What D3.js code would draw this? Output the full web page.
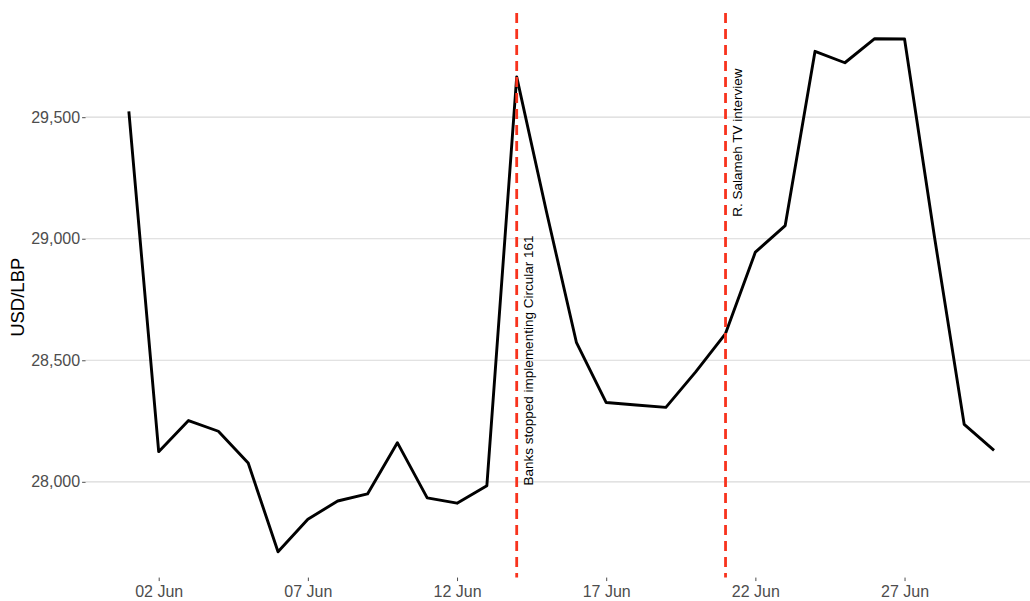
<!DOCTYPE html>
<html>
<head>
<meta charset="utf-8">
<script src="https://cdn.jsdelivr.net/npm/d3@7"></script>
<style>
  html, body { margin: 0; padding: 0; background: #fff; }
  svg { display: block; }
  text { font-family: "Liberation Sans", Arial, Helvetica, sans-serif; }
</style>
</head>
<body>
<svg id="chart" width="1030" height="601"></svg>
<script>
// ---- data ----
const days = [1,2,3,4,5,6,7,8,9,10,11,12,13,14,15,16,17,18,19,20,21,22,23,24,25,26,27,28,29,30];
const rates = [29524,28124,28252,28208,28077,27712,27846,27921,27950,28161,27934,27912,27984,29666,29110,28574,28326,28316,28306,28452,28610,28945,29054,29771,29724,29823,29822,29010,28236,28129];
const yTicks = [28000, 28500, 29000, 29500];
const xTickDays = [2, 7, 12, 17, 22, 27];
const eventDays = [14, 21];
const eventLabels = ["Banks stopped implementing Circular 161", "R. Salameh TV interview"];
const eventLabelY = [27985, 29090];
const yTitle = "USD/LBP";

// ---- setup ----
const svg = d3.select("#chart");
const dt = d => new Date(2021, 5, d);
const DAY = 864e5;

const x = d3.scaleTime()
  .domain([new Date(+dt(1) - 1.45 * DAY), new Date(+dt(30) + 1.45 * DAY)])
  .range([85.6, 1037.3]);
const y = d3.scaleLinear()
  .domain([28000, 29500])
  .range([481.8, 117.2]);

const plotTop = y(29929), plotBottom = y(27606);
const plotLeft = x.range()[0], plotRight = x.range()[1];

// gridlines
svg.append("g").selectAll("line").data(yTicks).join("line")
  .attr("x1", plotLeft).attr("x2", plotRight)
  .attr("y1", d => y(d)).attr("y2", d => y(d))
  .attr("stroke", "#d9d9d9").attr("stroke-width", 1.2);

// y axis
const yAxis = d3.axisLeft(y).tickValues(yTicks).tickSize(3.5).tickPadding(2)
  .tickFormat(d3.format(","));
const gy = svg.append("g").attr("transform", `translate(${plotLeft},0)`).call(yAxis);
gy.select(".domain").remove();
gy.selectAll(".tick line").attr("stroke", "#4d4d4d").attr("stroke-width", 1);
gy.selectAll(".tick text").attr("fill", "#4d4d4d").attr("font-size", "16px")
  .attr("font-family", "Liberation Sans, Arial, sans-serif");

// x axis
const xAxis = d3.axisBottom(x).tickValues(xTickDays.map(dt)).tickSize(3.5).tickPadding(5)
  .tickFormat(d3.timeFormat("%d %b"));
const gx = svg.append("g").attr("transform", `translate(0,${plotBottom})`).call(xAxis);
gx.select(".domain").remove();
gx.selectAll(".tick line").attr("stroke", "#4d4d4d").attr("stroke-width", 1);
gx.selectAll(".tick text").attr("fill", "#4d4d4d").attr("font-size", "16px")
  .attr("font-family", "Liberation Sans, Arial, sans-serif");

// y title
svg.append("text")
  .attr("transform", `translate(24,${(plotTop + plotBottom) / 2 + 2}) rotate(-90)`)
  .attr("text-anchor", "middle")
  .attr("font-size", "18.5px")
  .attr("fill", "#000")
  .text(yTitle);

// line
const line = d3.line()
  .x((d, i) => x(dt(days[i])))
  .y(d => y(d));
svg.append("path")
  .datum(rates)
  .attr("d", line)
  .attr("fill", "none")
  .attr("stroke", "#000")
  .attr("stroke-width", 2.9)
  .attr("stroke-linejoin", "round");

// event lines
svg.append("g").selectAll("line").data(eventDays).join("line")
  .attr("x1", d => x(dt(d))).attr("x2", d => x(dt(d)))
  .attr("y1", plotTop).attr("y2", plotBottom)
  .attr("stroke", "#f8331d").attr("stroke-width", 2.8)
  .attr("stroke-dasharray", "10,6");

// event labels
svg.append("g").selectAll("text").data(eventDays).join("text")
  .attr("transform", (d, i) => `translate(${x(dt(d)) + 16},${y(eventLabelY[i])}) rotate(-90)`)
  .attr("text-anchor", "start")
  .attr("font-size", "13.5px")
  .attr("fill", "#000")
  .text((d, i) => eventLabels[i]);
</script>
</body>
</html>
